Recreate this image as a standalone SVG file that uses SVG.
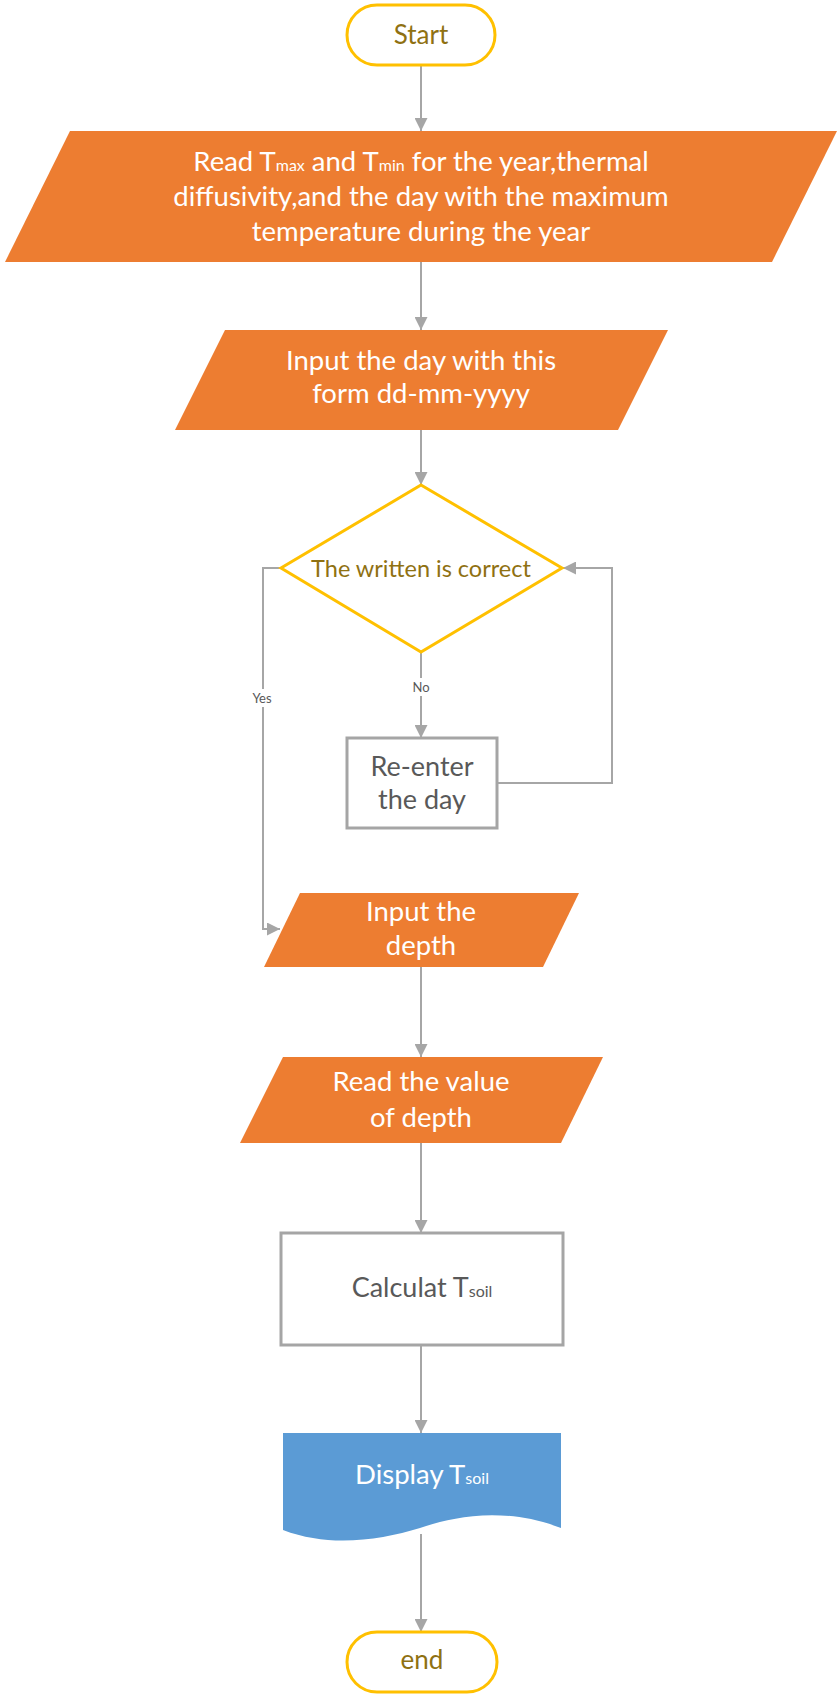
<svg xmlns="http://www.w3.org/2000/svg" width="837" height="1695" viewBox="0 0 837 1695">
<defs>
<marker id="ah" markerUnits="userSpaceOnUse" markerWidth="13" markerHeight="13" refX="13" refY="6.5" orient="auto">
<path d="M0,0 L13,6.5 L0,13 Z" fill="#a6a6a6"/>
</marker>
<style>
.conn{fill:none;stroke:#a6a6a6;stroke-width:2;marker-end:url(#ah)}
.term{fill:#fff;stroke:#ffc000;stroke-width:3}
.io{fill:#ed7d31}
.proc{fill:#fff;stroke:#a5a5a5;stroke-width:3}
.t{font-family:Lato,"Open Sans","Liberation Sans",sans-serif;text-anchor:middle}
.w{fill:#fff;font-size:27.5px}
.gold{fill:#8f7112;font-size:26px}
.gray{fill:#595959;font-size:27px}
.lbl{fill:#595959;font-size:13px}
.sub{font-size:16px}
</style>
</defs>
<g id="connectors">
<line class="conn" x1="421" y1="65" x2="421" y2="131"/>
<line class="conn" x1="421" y1="262" x2="421" y2="330"/>
<line class="conn" x1="421" y1="430" x2="421" y2="485"/>
<line class="conn" x1="421" y1="652" x2="421" y2="738"/>
<path class="conn" d="M497,783 H612 V568 H563"/>
<path class="conn" d="M282,568 H263 V929 H280"/>
<line class="conn" x1="421" y1="967" x2="421" y2="1057"/>
<line class="conn" x1="421" y1="1143" x2="421" y2="1233"/>
<line class="conn" x1="421" y1="1345" x2="421" y2="1433"/>
<line class="conn" x1="421" y1="1534" x2="421" y2="1632"/>
<rect x="408" y="678" width="26" height="18" fill="#fff"/>
<text class="t lbl" x="421" y="692">No</text>
<rect x="249" y="689" width="27" height="18" fill="#fff"/>
<text class="t lbl" x="262" y="703">Yes</text>
</g>
<g id="start">
<rect class="term" x="347" y="5" width="148" height="60" rx="30"/>
<text class="t gold" x="421" y="44">Start</text>
</g>
<g id="read-inputs">
<polygon class="io" points="70,131 837,131 772,262 5,262"/>
<text class="t w" x="421" y="171">Read T<tspan class="sub">max</tspan> and T<tspan class="sub">min</tspan> for the year,thermal</text>
<text class="t w" x="421" y="206">diffusivity,and the day with the maximum</text>
<text class="t w" x="421" y="241">temperature during the year</text>
</g>
<g id="input-day">
<polygon class="io" points="225,330 668,330 618,430 175,430"/>
<text class="t w" x="421" y="370">Input the day with this</text>
<text class="t w" x="421" y="403">form dd-mm-yyyy</text>
</g>
<g id="decision">
<polygon fill="#fff" stroke="#ffc000" stroke-width="3" points="421,485 562,568 421,652 281,568"/>
<text class="t" x="421" y="577" fill="#8f7112" font-size="23.5">The written is correct</text>
</g>
<g id="re-enter">
<rect class="proc" x="347" y="738" width="150" height="90"/>
<text class="t gray" x="422" y="776">Re-enter</text>
<text class="t gray" x="422" y="809">the day</text>
</g>
<g id="input-depth">
<polygon class="io" points="300,893 579,893 543,967 264,967"/>
<text class="t w" x="421" y="921">Input the</text>
<text class="t w" x="421" y="955">depth</text>
</g>
<g id="read-depth">
<polygon class="io" points="283,1057 603,1057 561,1143 240,1143"/>
<text class="t w" x="421" y="1091">Read the value</text>
<text class="t w" x="421" y="1127">of depth</text>
</g>
<g id="calculate">
<rect class="proc" x="281" y="1233" width="282" height="112"/>
<text class="t gray" x="422" y="1297" font-size="24.5">Calculat T<tspan class="sub">soil</tspan></text>
</g>
<g id="display">
<path fill="#5b9bd5" d="M283,1433 H561 V1528 C500,1505 450,1518 420,1528 C380,1540 330,1548 283,1530 Z"/>
<text class="t w" x="422" y="1484" font-size="26">Display T<tspan class="sub">soil</tspan></text>
</g>
<g id="end">
<rect class="term" x="347" y="1632" width="150" height="60" rx="30"/>
<text class="t gold" x="422" y="1669">end</text>
</g>
</svg>
